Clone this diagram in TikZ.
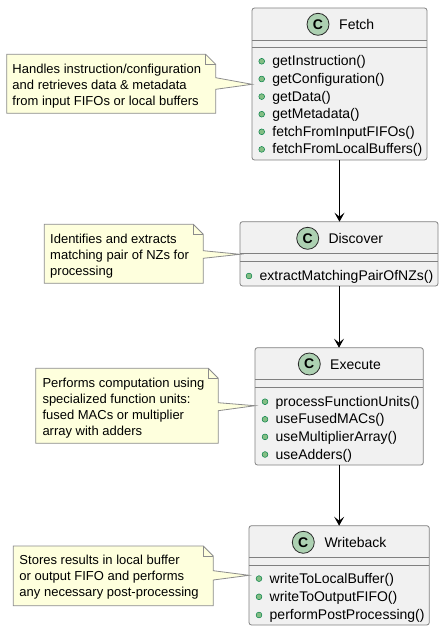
\documentclass[tikz,border=0pt]{standalone}
\usepackage{fontspec}
\setmainfont{Liberation Sans}
\usetikzlibrary{arrows.meta}
\definecolor{boxfill}{HTML}{F1F1F1}
\definecolor{boxline}{HTML}{808080}
\definecolor{notefill}{HTML}{FEFFDD}
\definecolor{noteline}{HTML}{8C8C8C}
\definecolor{circfill}{HTML}{ADD1B2}
\definecolor{circline}{HTML}{2A2A2A}
\definecolor{bulfill}{HTML}{84BE84}
\definecolor{bulline}{HTML}{038048}
\tikzset{
  classbox/.style={draw=boxline, fill=boxfill, rounded corners=2.5pt, line width=0.8pt, inner sep=0pt, outer sep=0pt, anchor=north west},
  sepline/.style={draw=boxline, line width=0.8pt},
  circ/.style={circle, draw=circline, fill=circfill, line width=0.8pt, minimum size=22pt, inner sep=0pt, font=\fontsize{14}{14}\selectfont\bfseries},
  titletxt/.style={anchor=base west, inner sep=0pt, font=\fontsize{14}{16}\selectfont},
  methtxt/.style={anchor=base west, inner sep=0pt, font=\fontsize{14}{16}\selectfont},
  bullet/.style={fill=bulfill, draw=bulline, line width=0.5pt},
  notetxt/.style={anchor=base west, inner sep=0pt, align=left, font=\fontsize{13}{16.2}\selectfont},
  noteshape/.style={draw=noteline, fill=notefill, line width=0.8pt, line join=miter},
  notefold/.style={draw=noteline, line width=0.8pt},
  arr/.style={draw=black, line width=0.9pt, -{Stealth[length=9pt, width=10pt, inset=4pt]}},
}
\newcommand{\meth}[4]{%
  \fill[bullet] (#2,#3) circle (2.9);
  \node[methtxt] (#1) at (#2+10.5,#3+4.5) {#4};}
\begin{document}
\begin{tikzpicture}[x=1pt,y=-1pt]
\useasboundingbox (0,0) rectangle (444,631);

% ---------- Fetch ----------
\node[classbox, minimum width=175pt, minimum height=152pt] (fetch) at (252,8) {};
\node[circ] (fetchc) at (318,24.3) {C};
\node[titletxt] (fetcht) at (339,29.3) {Fetch};
\draw[sepline] (fetch.west |- 0,40.5) -- (fetch.east |- 0,40.5);
\draw[sepline] (fetch.west |- 0,47.3) -- (fetch.east |- 0,47.3);
\meth{fm1}{261.7}{61.3}{getInstruction()}
\meth{fm2}{261.7}{79.0}{getConfiguration()}
\meth{fm3}{261.7}{96.6}{getData()}
\meth{fm4}{261.7}{114.2}{getMetadata()}
\meth{fm5}{261.7}{131.8}{fetchFromInputFIFOs()}
\meth{fm6}{261.7}{149.4}{fetchFromLocalBuffers()}

% ---------- Discover ----------
\node[classbox, minimum width=198pt, minimum height=64.3pt] (disc) at (240,221.7) {};
\node[circ] (discc) at (307.7,238.3) {C};
\node[titletxt] (disct) at (328.3,243.3) {Discover};
\draw[sepline] (disc.west |- 0,253.5) -- (disc.east |- 0,253.5);
\draw[sepline] (disc.west |- 0,261.5) -- (disc.east |- 0,261.5);
\meth{dm1}{249}{276}{extractMatchingPairOfNZs()}

% ---------- Execute ----------
\node[classbox, minimum width=168.3pt, minimum height=117.3pt] (exec) at (255,347.7) {};
\node[circ] (execc) at (309.3,364) {C};
\node[titletxt] (exect) at (330,369) {Execute};
\draw[sepline] (exec.west |- 0,379.5) -- (exec.east |- 0,379.5);
\draw[sepline] (exec.west |- 0,387.3) -- (exec.east |- 0,387.3);
\meth{em1}{265}{401.7}{processFunctionUnits()}
\meth{em2}{265}{419.3}{useFusedMACs()}
\meth{em3}{265}{436.9}{useMultiplierArray()}
\meth{em4}{265}{454.5}{useAdders()}

% ---------- Writeback ----------
\node[classbox, minimum width=180.3pt, minimum height=99.3pt] (wb) at (249,525.7) {};
\node[circ] (wbc) at (303.3,542.3) {C};
\node[titletxt] (wbt) at (324.3,547.3) {Writeback};
\draw[sepline] (wb.west |- 0,557.7) -- (wb.east |- 0,557.7);
\draw[sepline] (wb.west |- 0,565.7) -- (wb.east |- 0,565.7);
\meth{wm1}{259}{578.6}{writeToLocalBuffer()}
\meth{wm2}{259}{596.8}{writeToOutputFIFO()}
\meth{wm3}{259}{615}{performPostProcessing()}

% ---------- arrows ----------
\draw[arr] (fetch.south) -- (fetch.south |- disc.north);
\draw[arr] (disc.south) -- (disc.south |- exec.north);
\draw[arr] (exec.south) -- (exec.south |- wb.north);

% ---------- notes ----------
% Fetch note
\draw[noteshape] (6.7,54.3) -- (205.7,54.3) -- (215.7,64.3) -- (215.7,77.7)
  -- (fetch.west |- 0,84.3) -- (215.7,89.3) -- (215.7,113.3) -- (6.7,113.3) -- cycle;
\draw[notefold] (205.7,54.3) -- (205.7,64.3) -- (215.7,64.3);
\node[notetxt] (fnote) at (12.3,105.8) {Handles instruction/configuration\\and retrieves data \& metadata\\from input FIFOs or local buffers};

% Discover note
\draw[noteshape] (44.3,224.3) -- (193.3,224.3) -- (203.3,234.3) -- (203.3,250.7)
  -- (disc.west |- 0,254.3) -- (203.3,258.3) -- (203.3,283.3) -- (44.3,283.3) -- cycle;
\draw[notefold] (193.3,224.3) -- (193.3,234.3) -- (203.3,234.3);
\node[notetxt] (dnote) at (50,275.6) {Identifies and extracts\\matching pair of NZs for\\processing};

% Execute note
\draw[noteshape] (35.7,368.3) -- (208.3,368.3) -- (218.3,378.3) -- (218.3,402.7)
  -- (exec.west |- 0,405.7) -- (218.3,410.7) -- (218.3,443.3) -- (35.7,443.3) -- cycle;
\draw[notefold] (208.3,368.3) -- (208.3,378.3) -- (218.3,378.3);
\node[notetxt] (enote) at (42.3,435.8) {Performs computation using\\specialized function units:\\fused MACs or multiplier\\array with adders};

% Writeback note
\draw[noteshape] (13.3,546) -- (203.3,546) -- (213.3,556) -- (213.3,570.7)
  -- (wb.west |- 0,575.3) -- (213.3,580) -- (213.3,605.7) -- (13.3,605.7) -- cycle;
\draw[notefold] (203.3,546) -- (203.3,556) -- (213.3,556);
\node[notetxt] (wnote) at (19.3,596.9) {Stores results in local buffer\\or output FIFO and performs\\any necessary post-processing};
\end{tikzpicture}
\end{document}
